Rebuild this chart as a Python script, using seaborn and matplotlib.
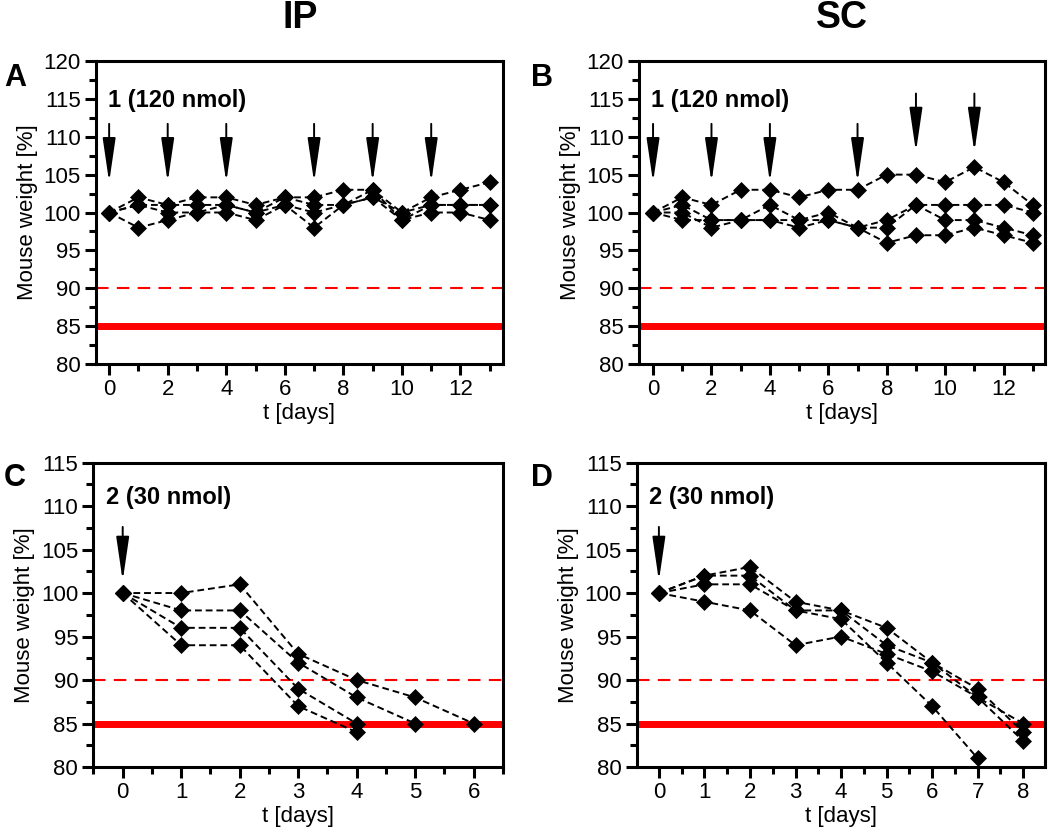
import pandas as pd
import matplotlib.pyplot as plt
from matplotlib.ticker import MultipleLocator
import seaborn as sns

# Panel A: compound 1, 120 nmol, IP
days_a = list(range(14))
a_mouse1 = [100, 102, 101, 102, 102, 101, 102, 102, 103, 103, 100, 102, 103, 104]
a_mouse2 = [100, 101, 101, 101, 101, 100, 102, 101, 101, 102, 100, 101, 101, 101]
a_mouse3 = [100, 101, 100, 100, 100, 99, 101, 100, 101, 103, 99, 100, 100, 99]
a_mouse4 = [100, 98, 99, 100, 101, 100, 101, 98, 101, 102, 99, 101, 101, 101]
doses_a = [0, 2, 4, 7, 9, 11]

# Panel B: compound 1, 120 nmol, SC
days_b = list(range(14))
b_mouse1 = [100, 102, 101, 103, 103, 102, 103, 103, 105, 105, 104, 106, 104, 101]
b_mouse2 = [100, 101, 99, 99, 101, 99, 100, 98, 99, 101, 101, 101, 101, 100]
b_mouse3 = [100, 100, 98, 99, 99, 98, 99, 98, 98, 101, 99, 99, 98, 97]
b_mouse4 = [100, 99, 99, 99, 99, 99, 99, 98, 96, 97, 97, 98, 97, 96]
doses_b = [0, 2, 4, 7, 9, 11]

# Panel C: compound 2, 30 nmol, IP
c_mouse1 = [100, 100, 101, 93, 90, 88, 85]
c_mouse2 = [100, 98, 98, 92, 88, 85]
c_mouse3 = [100, 96, 96, 89, 85]
c_mouse4 = [100, 94, 94, 87, 84]
doses_c = [0]

# Panel D: compound 2, 30 nmol, SC
d_mouse1 = [100, 102, 103, 99, 98, 96, 92, 89, 84]
d_mouse2 = [100, 102, 102, 98, 98, 94, 92, 88, 85]
d_mouse3 = [100, 101, 101, 98, 97, 92, 87, 81]
d_mouse4 = [100, 99, 98, 94, 95, 93, 91, 88, 83]
doses_d = [0]

warn_level = 90
limit_level = 85


def to_frame(series):
    rows = []
    for i, s in enumerate(series):
        for d, w in enumerate(s):
            rows.append({'day': d, 'weight': w, 'mouse': i})
    return pd.DataFrame(rows)


sns.set_style('ticks')
plt.rcParams['font.family'] = ['Liberation Sans', 'DejaVu Sans']
plt.rcParams['axes.linewidth'] = 2.2
for k in ['text.color', 'axes.labelcolor', 'xtick.color', 'ytick.color', 'axes.edgecolor']:
    plt.rcParams[k] = 'black'

fig = plt.figure(figsize=(10.5, 8.34), dpi=100)

panels = [
    ('A', [0.0914, 0.5635, 0.3876, 0.3634], [a_mouse1, a_mouse2, a_mouse3, a_mouse4],
     doses_a, [], '1 (120 nmol)', (-0.45, 13.45), 120, 2),
    ('B', [0.6086, 0.5635, 0.3867, 0.3634], [b_mouse1, b_mouse2, b_mouse3, b_mouse4],
     doses_b, [9, 11], '1 (120 nmol)', (-0.48, 13.42), 120, 2),
    ('C', [0.0890, 0.0803, 0.3900, 0.3651], [c_mouse1, c_mouse2, c_mouse3, c_mouse4],
     doses_c, [], '2 (30 nmol)', (-0.5, 6.5), 115, 1),
    ('D', [0.6067, 0.0803, 0.3886, 0.3651], [d_mouse1, d_mouse2, d_mouse3, d_mouse4],
     doses_d, [], '2 (30 nmol)', (-0.48, 8.48), 115, 1),
]

for letter, rect, series, doses, high, label, xlim, ytop, xstep in panels:
    ax = fig.add_axes(rect)
    df = to_frame(series)

    ax.axhline(warn_level, color='red', lw=1.5, ls=(0, (6, 4)), zorder=1)
    ax.axhline(limit_level, color='red', lw=5, zorder=1)

    sns.lineplot(data=df, x='day', y='weight', units='mouse', estimator=None,
                 color='black', marker='D', markersize=8.6, markeredgecolor='black',
                 markeredgewidth=0.5, linestyle=(0, (3.5, 2)), lw=1.4, ax=ax,
                 zorder=3)

    # dosing arrows
    big = ytop == 115
    for d in doses:
        if big:
            top, tip = 107.6, 101.4
        elif d in high:
            top, tip = 115.7, 108.0
        else:
            top, tip = 111.7, 104.0
        ax.annotate('', xy=(d, tip), xytext=(d, top),
                    arrowprops=dict(arrowstyle='-|>,head_length=1.5,head_width=0.22',
                                    color='black', lw=1.4, mutation_scale=18,
                                    shrinkA=0, shrinkB=0))

    ax.set_xlim(*xlim)
    ax.set_ylim(80, ytop)
    ax.yaxis.set_major_locator(MultipleLocator(5))
    ax.yaxis.set_minor_locator(MultipleLocator(2.5))
    ax.xaxis.set_major_locator(MultipleLocator(xstep))
    ax.xaxis.set_minor_locator(MultipleLocator(xstep / 2))
    ax.tick_params(which='major', length=8, width=2.2, labelsize=16, direction='out',
                   pad=3)
    ax.tick_params(which='minor', length=5, width=2.2, direction='out')
    for sp in ax.spines.values():
        sp.set_visible(True)
        sp.set_color('black')

    ax.set_xlabel('t [days]', fontsize=16, labelpad=2)
    ax.set_ylabel('Mouse weight [%]', fontsize=16, labelpad=4)
    ax.text(0.03, 0.87 if not big else 0.885, label, transform=ax.transAxes,
            fontsize=17, fontweight='bold', va='center', ha='left')

    lx = 15 / 1050 if rect[0] < 0.5 else 542 / 1050
    ly = 1 - 78 / 834 if rect[1] > 0.5 else 1 - 478 / 834
    fig.text(lx, ly, letter, fontsize=22, fontweight='bold', ha='center', va='center')

fig.text(300 / 1050, 1 - 18 / 834, 'IP', fontsize=27, fontweight='bold',
         ha='center', va='center')
fig.text(842 / 1050, 1 - 18 / 834, 'SC', fontsize=27, fontweight='bold',
         ha='center', va='center')

fig.savefig('out.png', dpi=100)
